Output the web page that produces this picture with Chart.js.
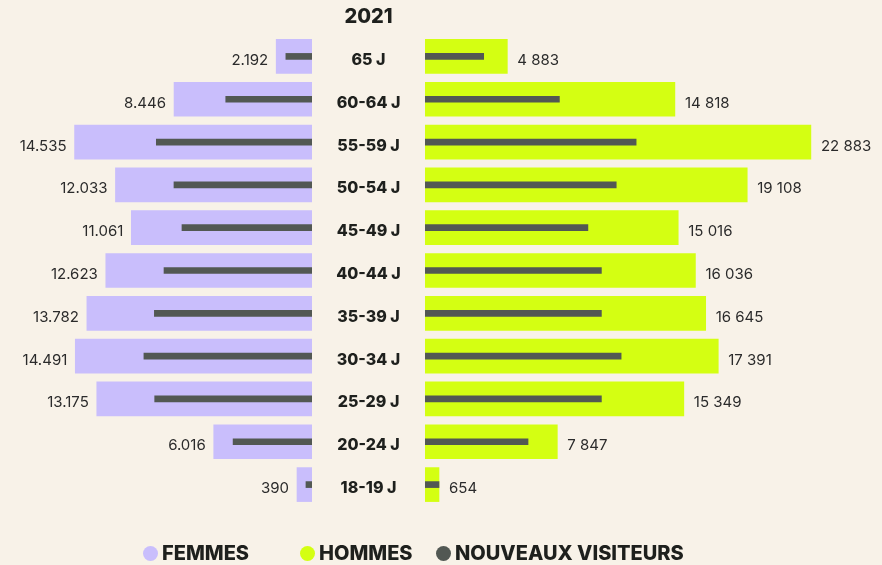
<!DOCTYPE html>
<html>
<head>
<meta charset="utf-8">
<script src="https://cdn.jsdelivr.net/npm/chart.js@4.4.1/dist/chart.umd.min.js"></script>
<style>
  html, body { margin: 0; padding: 0; background: #f8f2e8; }
  #wrap { position: relative; width: 882px; height: 565px; }
  #pyramid { position: absolute; left: 0; top: 0; }
  .legend-item {
    position: absolute;
    top: 541px;
    display: flex;
    align-items: center;
    font: 800 20px Inter, sans-serif;
    color: #1e201d;
    white-space: nowrap;
    line-height: 24px;
  }
  .dot { width: 15px; height: 15px; border-radius: 50%; margin-right: 4px; }
</style>
</head>
<body>
<div id="wrap">
  <canvas id="pyramid" width="882" height="565"></canvas>
  <div class="legend-item" style="left:143px"><span class="dot" style="background:#c9befc"></span>FEMMES</div>
  <div class="legend-item" style="left:300px"><span class="dot" style="background:#d4ff12"></span>HOMMES</div>
  <div class="legend-item" style="left:436px"><span class="dot" style="background:#525853"></span>NOUVEAUX VISITEURS</div>
</div>
<script>
// Data
const yearTitle = '2021';
const ageGroups = ['65 J', '60-64 J', '55-59 J', '50-54 J', '45-49 J', '40-44 J', '35-39 J', '30-34 J', '25-29 J', '20-24 J', '18-19 J'];
const femmes = [2192, 8446, 14535, 12033, 11061, 12623, 13782, 14491, 13175, 6016, 390];
const hommes = [4883, 14818, 22883, 19108, 15016, 16036, 16645, 17391, 15349, 7847, 654];
const nouveauxFemmes = [1600, 5280, 9530, 8450, 7960, 9060, 9650, 10290, 9630, 4830, 370];
const nouveauxHommes = [3480, 7970, 12520, 11340, 9660, 10460, 10460, 11630, 10460, 6110, 620];

const COLOR_F = '#c9befc';
const COLOR_H = '#d4ff12';
const COLOR_NEW = '#525853';
const TEXT = '#1e201d';

// thousands separators as in the picture
const fmtF = v => String(v).replace(/\B(?=(\d{3})+(?!\d))/g, '.');
const fmtH = v => String(v).replace(/\B(?=(\d{3})+(?!\d))/g, ' ');

// draws title, age labels in the middle column and value labels
const pyramidLabels = {
    id: 'pyramidLabels',
    afterDatasetsDraw(chart) {
        const ctx = chart.ctx;
        const yScale = chart.scales.y;
        const mid = chart.scales.xMid;
        const cx = (mid.left + mid.right) / 2;
        const metaF = chart.getDatasetMeta(0);
        const metaH = chart.getDatasetMeta(1);

        ctx.save();
        ctx.fillStyle = TEXT;
        ctx.textBaseline = 'alphabetic';

        ctx.font = '800 20px Inter';
        ctx.textAlign = 'center';
        ctx.fillText(yearTitle, cx, 23);

        ageGroups.forEach((g, i) => {
            const py = yScale.getPixelForValue(i) + 8.5;
            ctx.font = '800 16px Inter';
            ctx.textAlign = 'center';
            ctx.fillText(g, cx, py);

            ctx.font = '15px Inter';
            ctx.fillStyle = '#2b2b2b';
            ctx.textAlign = 'right';
            ctx.fillText(fmtF(femmes[i]), metaF.data[i].x - 8, py);
            ctx.textAlign = 'left';
            ctx.fillText(fmtH(hommes[i]), metaH.data[i].x + 10, py);
            ctx.fillStyle = TEXT;
        });
        ctx.restore();
    }
};

const ctx = document.getElementById('pyramid').getContext('2d');
new Chart(ctx, {
    type: 'bar',
    data: {
        labels: ageGroups,
        datasets: [
            {
                label: 'FEMMES',
                data: femmes,
                xAxisID: 'xF',
                backgroundColor: COLOR_F,
                barThickness: 34,
                minBarLength: 15,
                grouped: false,
                order: 2
            },
            {
                label: 'HOMMES',
                data: hommes,
                xAxisID: 'xH',
                backgroundColor: COLOR_H,
                barThickness: 34,
                minBarLength: 14,
                grouped: false,
                order: 2
            },
            {
                label: 'NOUVEAUX VISITEURS',
                data: nouveauxFemmes,
                xAxisID: 'xF',
                backgroundColor: COLOR_NEW,
                barThickness: 6,
                grouped: false,
                order: 1
            },
            {
                label: 'NOUVEAUX VISITEURS',
                data: nouveauxHommes,
                xAxisID: 'xH',
                backgroundColor: COLOR_NEW,
                barThickness: 6,
                minBarLength: 14,
                grouped: false,
                order: 1
            }
        ]
    },
    options: {
        indexAxis: 'y',
        responsive: false,
        animation: false,
        devicePixelRatio: 1,
        layout: {
            padding: { top: 35, bottom: 59, left: 0, right: 0 }
        },
        plugins: {
            legend: { display: false },
            tooltip: { enabled: false }
        },
        scales: {
            xF: {
                type: 'linear',
                position: 'bottom',
                stack: 'pyramid',
                stackWeight: 312,
                reverse: true,
                min: 0,
                max: 19100,
                display: false
            },
            xMid: {
                type: 'linear',
                position: 'bottom',
                stack: 'pyramid',
                stackWeight: 113,
                min: 0,
                max: 1,
                display: false
            },
            xH: {
                type: 'linear',
                position: 'bottom',
                stack: 'pyramid',
                stackWeight: 457,
                min: 0,
                max: 27100,
                display: false
            },
            y: {
                type: 'category',
                display: false,
                offset: true
            }
        }
    },
    plugins: [pyramidLabels]
});
</script>
</body>
</html>
